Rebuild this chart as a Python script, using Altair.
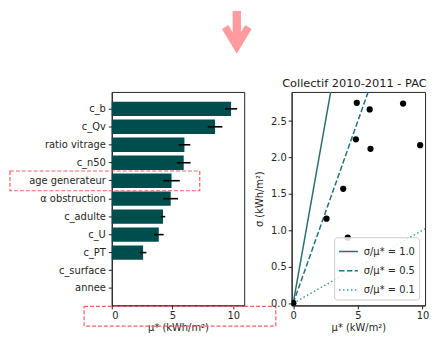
import altair as alt
import pandas as pd

# ---------------- data ----------------
variables = ["c_b", "c_Qv", "ratio vitrage", "c_n50", "age generateur",
             "α obstruction", "c_adulte", "c_U", "c_PT", "c_surface", "annee"]
mu_star = [9.82, 8.50, 5.98, 5.92, 4.92, 4.85, 4.22, 3.87, 2.58, 0.0, 0.0]
mu_err = [0.50, 0.60, 0.48, 0.57, 0.68, 0.60, 0.18, 0.40, 0.27, 0.0, 0.0]
sigma = [2.17, 2.74, 2.12, 2.66, 2.75, 2.25, 0.90, 1.57, 1.16, 0.0, 0.0]

ratios = [1.0, 0.5, 0.1]
ratio_labels = ["σ/μ* = 1.0", "σ/μ* = 0.5", "σ/μ* = 0.1"]
line_colors = ["#2a6e6e", "#21707c", "#3a9a9a"]
line_dashes = [[1, 0], [5.5, 2.4], [1.5, 2.5]]

bar_ticks = [0, 5, 10]
scatter_x_ticks = [0, 5, 10]
scatter_y_ticks = [0.0, 0.5, 1.0, 1.5, 2.0, 2.5]
bar_x_domain = [0, 10.9]
scatter_x_domain = [-0.12, 10.2]
scatter_y_domain = [-0.03, 2.9]

df = pd.DataFrame({
    "var": variables,
    "mu": mu_star,
    "lo": [m - e for m, e in zip(mu_star, mu_err)],
    "hi": [m + e for m, e in zip(mu_star, mu_err)],
    "sigma": sigma,
})

line_rows = []
for r, lab in zip(ratios, ratio_labels):
    for xv in [0.0, scatter_x_domain[1]]:
        line_rows.append({"x": xv, "y": r * xv, "label": lab})
lines_df = pd.DataFrame(line_rows)

dummy = pd.DataFrame({"k": [0]})

FONT = "DejaVu Sans"
BAR_COLOR = "#004d4d"
RED = "#ef6161"
PINK = "#ff9b9e"

W, H = 134, 216

# ---------------- left: bar chart ----------------
y_enc = alt.Y("var:N", sort=variables, title=None,
              scale=alt.Scale(paddingInner=0.2, paddingOuter=0.54),
              axis=alt.Axis(labelPadding=3))
x_bar = alt.X("mu:Q", title="μ* (kWh/m²)",
              scale=alt.Scale(domain=bar_x_domain, nice=False, zero=False),
              axis=alt.Axis(values=bar_ticks, format="d"))

bars = alt.Chart(df).mark_bar(color=BAR_COLOR).encode(y=y_enc, x=x_bar)
errs = alt.Chart(df).mark_rule(color="black", strokeWidth=1.6).encode(
    y=alt.Y("var:N", sort=variables), x="lo:Q", x2="hi:Q")

box1 = alt.Chart(dummy).mark_rect(fillOpacity=0, stroke=RED, strokeWidth=1.2,
                                  strokeDash=[4, 2]).encode(
    x=alt.value(-103), x2=alt.value(89), y=alt.value(80), y2=alt.value(100))
box2 = alt.Chart(dummy).mark_rect(fillOpacity=0, stroke=RED, strokeWidth=1.2,
                                  strokeDash=[4, 2]).encode(
    x=alt.value(-28), x2=alt.value(166), y=alt.value(217), y2=alt.value(237))

arrow_path = ("M -0.194 -1 L 0.194 -1 L 0.194 -0.007 L 0.393 -0.339 "
              "L 0.693 -0.155 L 0 1 L -0.693 -0.155 L -0.393 -0.339 "
              "L -0.194 -0.007 Z")
arrow = alt.Chart(dummy).mark_point(shape=arrow_path, filled=True, fill=PINK,
                                    opacity=1, strokeWidth=0, size=1875).encode(
    x=alt.value(126.5), y=alt.value(-60.35))

left = alt.layer(bars, errs, box1, box2, arrow).properties(width=W, height=H)

# ---------------- right: sigma vs mu* ----------------
x_sc = alt.X("x:Q", title="μ*  (kW/m²)",
             scale=alt.Scale(domain=scatter_x_domain, nice=False, zero=False),
             axis=alt.Axis(values=scatter_x_ticks, format="d"))
y_sc = alt.Y("y:Q", title="σ (kWh/m²)",
             scale=alt.Scale(domain=scatter_y_domain, nice=False, zero=False),
             axis=alt.Axis(values=scatter_y_ticks, format=".1f", titlePadding=6))

lines = alt.Chart(lines_df).mark_line(strokeWidth=1.5, clip=True).encode(
    x=x_sc, y=y_sc,
    color=alt.Color("label:N", title=None,
                    scale=alt.Scale(domain=ratio_labels, range=line_colors),
                    legend=alt.Legend(orient="bottom-right", offset=6,
                                      symbolType="stroke", symbolSize=360,
                                      symbolStrokeWidth=1.5, labelFontSize=10,
                                      labelColor="#262626", rowPadding=3.5,
                                      padding=4, cornerRadius=3,
                                      strokeColor="#cccccc",
                                      fillColor="rgba(255,255,255,0.85)",
                                      labelOffset=5)),
    strokeDash=alt.StrokeDash("label:N", title=None,
                              scale=alt.Scale(domain=ratio_labels, range=line_dashes)),
)

points = alt.Chart(df).mark_circle(color="black", size=40, opacity=1, clip=True).encode(
    x=alt.X("mu:Q", scale=alt.Scale(domain=scatter_x_domain, nice=False, zero=False)),
    y=alt.Y("sigma:Q", scale=alt.Scale(domain=scatter_y_domain, nice=False, zero=False)),
)

right = alt.layer(lines, points).properties(
    width=135, height=H,
    title=alt.TitleParams("Collectif 2010-2011 - PAC", fontSize=11.5, dx=-4,
                          fontWeight="normal", color="#1a1a1a", offset=3, font=FONT))

chart = alt.hconcat(left, right, spacing=48, bounds="flush").resolve_legend(
    color="independent", strokeDash="independent"
).properties(
    padding={"left": 0, "top": 0, "right": 0, "bottom": 0}
).configure(font=FONT).configure_view(
    stroke="#222222", strokeWidth=1
).configure_axis(
    grid=False, domainColor="#222222", tickColor="#222222", tickSize=3.5,
    labelFontSize=10, labelColor="#262626", labelFont=FONT,
    titleFontSize=10, titleFontWeight="normal", titleColor="#262626",
    titleFont=FONT, labelPadding=2, titlePadding=2
).configure_legend(labelFont=FONT)

chart.save("out.html", embed_options={"renderer": "svg", "actions": False})
